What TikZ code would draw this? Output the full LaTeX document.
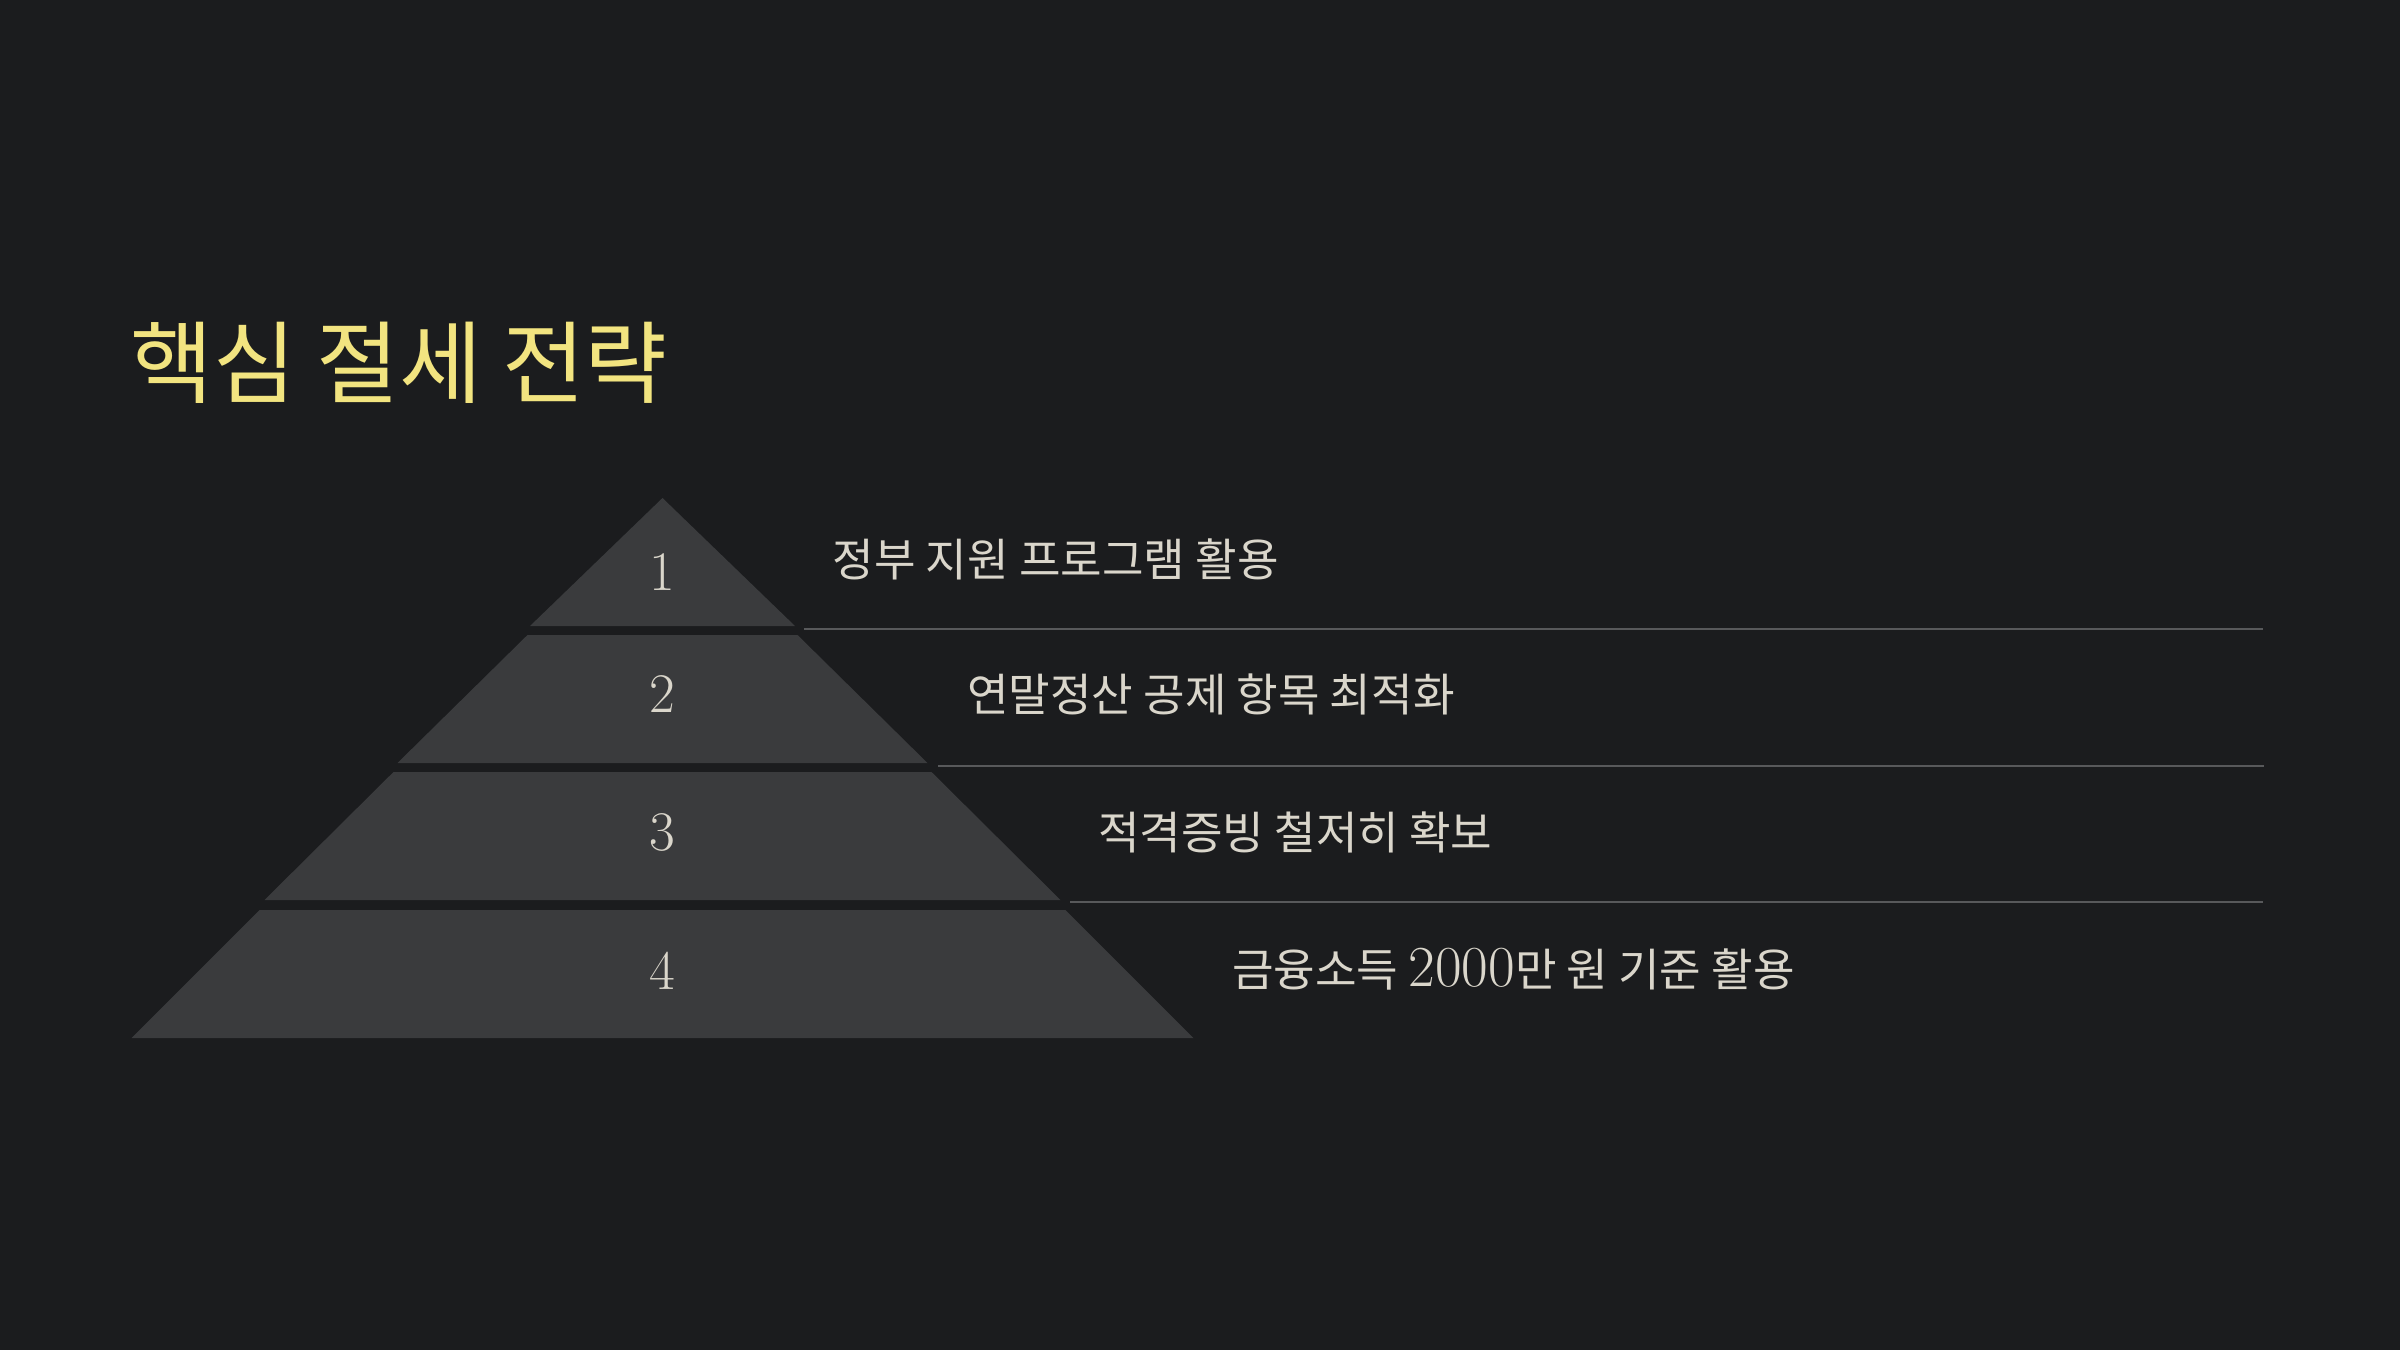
\documentclass[tikz,border=0pt]{standalone}
\usepackage{fontspec}
\usepackage{tikz}
\newfontfamily\krfont{Noto Sans CJK KR}
\definecolor{ground}{RGB}{27,28,30}
\definecolor{slab}{RGB}{58,59,61}
\definecolor{rulegray}{RGB}{88,89,91}
\definecolor{parch}{RGB}{218,214,203}
\definecolor{gold}{RGB}{242,228,128}

\begin{document}
\begin{tikzpicture}[
    tier/.style={fill=slab},
    num/.style={parch,inner sep=0pt,font=\fontsize{15.9}{18}\selectfont},
    itemtext/.style={parch,anchor=west,inner sep=0pt,font=\fontsize{12.85}{15}\selectfont\krfont},
    sepline/.style={rulegray,line width=0.6pt}]
  \fill[ground] (0,0) rectangle (24,-13.5);
  \useasboundingbox (0,0) rectangle (24,-13.5);

  \node[gold,anchor=west,inner sep=0pt,font=\fontsize{25.6}{30}\selectfont\krfont]
       (title) at (1.30,-3.63) {핵심 절세 전략};

  % pyramid, top to bottom
  \fill[tier] (6.625,-4.98) -- (7.950,-6.26) -- (5.300,-6.26) -- cycle;
  \fill[tier] (5.275,-6.35) -- (7.975,-6.35) -- (9.275,-7.63) -- (3.975,-7.63) -- cycle;
  \fill[tier] (3.935,-7.72) -- (9.315,-7.72) -- (10.605,-9.00) -- (2.645,-9.00) -- cycle;
  \fill[tier] (2.595,-9.10) -- (10.655,-9.10) -- (11.935,-10.38) -- (1.315,-10.38) -- cycle;

  \node[num] (n1) at (6.625,-5.72) {1};
  \node[num] (n2) at (6.625,-6.94) {2};
  \node[num] (n3) at (6.625,-8.32) {3};
  \node[num] (n4) at (6.625,-9.71) {4};

  \node[itemtext] (t1) at (8.32,-5.59) {정부 지원 프로그램 활용};
  \node[itemtext] (t2) at (9.665,-6.94) {연말정산 공제 항목 최적화};
  \node[itemtext] (t3) at (10.976,-8.32) {적격증빙 철저히 확보};
  \node[itemtext] (t4) at (12.315,-9.69)
       {금융소득 {\rmfamily\fontsize{16.5}{15}\selectfont 2000}만 원 기준 활용};

  \coordinate (s1a) at (8.04,-6.29);  \coordinate (s1b) at (22.63,-6.29);
  \coordinate (s2a) at (9.38,-7.66);  \coordinate (s2b) at (22.64,-7.66);
  \coordinate (s3a) at (10.70,-9.02); \coordinate (s3b) at (22.63,-9.02);
  \draw[sepline] (s1a) -- (s1b);
  \draw[sepline] (s2a) -- (s2b);
  \draw[sepline] (s3a) -- (s3b);
\end{tikzpicture}
\end{document}
